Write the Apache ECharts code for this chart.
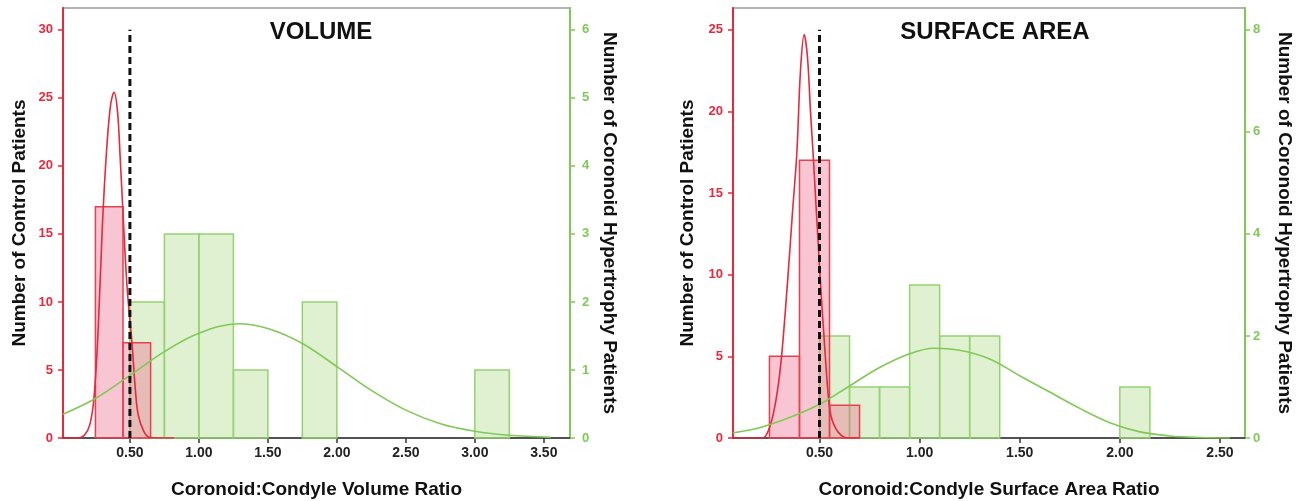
<!DOCTYPE html>
<html>
<head>
<meta charset="utf-8">
<script src="https://cdn.jsdelivr.net/npm/echarts@6/dist/echarts.min.js"></script>
<style>
  html, body { margin: 0; padding: 0; background: #fff; }
  #chart { width: 1302px; height: 501px; }
</style>
</head>
<body>
<div id="chart"></div>
<script>
// histogram bins: [start, end, count]
const volRedBins = [[0.25, 0.45, 17], [0.45, 0.65, 7]];
const volGreenBins = [[0.50, 0.75, 2], [0.75, 1.00, 3], [1.00, 1.25, 3], [1.25, 1.50, 1], [1.75, 2.00, 2], [3.00, 3.25, 1]];
const surfRedBins = [[0.25, 0.40, 5], [0.40, 0.55, 17], [0.55, 0.70, 2]];
const surfGreenBins = [[0.50, 0.65, 2], [0.65, 0.80, 1], [0.80, 0.95, 1], [0.95, 1.10, 3], [1.10, 1.25, 2], [1.25, 1.40, 2], [2.00, 2.15, 1]];

// fitted curves: [x, y]
const volRedCurve = [[0.015, 0], [0.12, 0], [0.17, 0.2], [0.21, 1.0], [0.24, 3.0], [0.27, 8.0], [0.30, 15.5], [0.33, 21.0], [0.36, 24.5], [0.385, 25.4], [0.41, 24.0], [0.43, 20.5], [0.45, 16.5], [0.48, 11.0], [0.515, 7.0], [0.54, 3.5], [0.56, 1.7], [0.60, 0.5], [0.64, 0.05], [0.70, 0], [0.82, 0]];
const volGreenCurve = [[0.015, 0.35], [0.25, 0.58], [0.50, 0.92], [0.75, 1.27], [1.00, 1.54], [1.29, 1.68], [1.50, 1.61], [1.75, 1.39], [2.00, 1.05], [2.25, 0.70], [2.50, 0.41], [2.75, 0.21], [3.00, 0.10], [3.25, 0.04], [3.55, 0.01]];
const surfRedCurve = [[0.068, 0], [0.20, 0], [0.23, 0.1], [0.262, 1.1], [0.29, 2.9], [0.312, 5.2], [0.34, 9.5], [0.365, 13.8], [0.387, 17.5], [0.405, 22.5], [0.4235, 24.7], [0.44, 23.3], [0.455, 20.0], [0.47, 17.0], [0.50, 10.5], [0.528, 5.2], [0.553, 1.6], [0.58, 0.6], [0.61, 0.15], [0.64, 0], [0.70, 0]];
const surfGreenCurve = [[0.068, 0.10], [0.20, 0.20], [0.35, 0.40], [0.50, 0.66], [0.65, 1.02], [0.80, 1.38], [0.95, 1.65], [1.07, 1.76], [1.20, 1.72], [1.35, 1.55], [1.50, 1.22], [1.65, 0.90], [1.80, 0.58], [1.95, 0.30], [2.10, 0.12], [2.25, 0.04], [2.40, 0.01], [2.55, 0]];

// tick labels
const volXTicks = [0.5, 1, 1.5, 2, 2.5, 3, 3.5];
const volRedTicks = [0, 5, 10, 15, 20, 25, 30];
const volGreenTicks = [0, 1, 2, 3, 4, 5, 6];
const surfXTicks = [0.5, 1, 1.5, 2, 2.5];
const surfRedTicks = [0, 5, 10, 15, 20, 25];
const surfGreenTicks = [0, 2, 4, 6, 8];

const cutoff = 0.5;
const volCutoffTop = 30;
const surfCutoffTop = 25;

const RED = '#e8283c';
const GREEN = '#80c956';
const FONT = 'Liberation Sans, Arial, sans-serif';

const chart = echarts.init(document.getElementById('chart'));

function barSeries(bins, xi, yi, fill, stroke, blend) {
    return {
        type: 'custom',
        xAxisIndex: xi,
        yAxisIndex: yi,
        data: bins,
        encode: { x: [0, 1], y: 2 },
        renderItem: function (params, api) {
            const a = api.coord([api.value(0), 0]);
            const b = api.coord([api.value(1), api.value(2)]);
            return {
                type: 'rect',
                shape: { x: a[0], y: b[1], width: b[0] - a[0], height: a[1] - b[1] },
                style: { fill: fill, stroke: stroke, lineWidth: 1.5, blend: blend }
            };
        }
    };
}

function curveSeries(points, xi, yi, color) {
    return {
        type: 'line',
        xAxisIndex: xi,
        yAxisIndex: yi,
        data: points,
        smooth: 0.35,
        showSymbol: false,
        silent: true,
        lineStyle: { color: color, width: 1.6 }
    };
}

function cutoffSeries(xi, yi, top) {
    return {
        type: 'line',
        xAxisIndex: xi,
        yAxisIndex: yi,
        data: [[cutoff, 0], [cutoff, top]],
        showSymbol: false,
        silent: true,
        z: 10,
        lineStyle: { color: '#111', width: 3, type: [7, 4] }
    };
}

function xAxis(gi, min, max, ticks, name) {
    return {
        type: 'value', gridIndex: gi, min: min, max: max,
        name: name, nameLocation: 'middle', nameGap: 42,
        nameTextStyle: { fontSize: 19, fontWeight: 'bold', color: '#111', fontFamily: FONT },
        axisLine: { lineStyle: { color: '#333', width: 1.5 } },
        axisTick: { customValues: ticks, length: 5, lineStyle: { color: '#333', width: 1.5 } },
        axisLabel: {
            customValues: ticks, margin: 8, fontSize: 14, fontWeight: 'bold', color: '#222', fontFamily: FONT,
            formatter: v => v.toFixed(2)
        },
        splitLine: { show: false }
    };
}

function yAxis(gi, pos, max, ticks, color, name, gap, rotate, margin) {
    return {
        type: 'value', gridIndex: gi, position: pos, min: 0, max: max,
        name: name, nameLocation: 'middle', nameGap: gap, nameRotate: rotate,
        nameTextStyle: { fontSize: 19, fontWeight: 'bold', color: '#111', fontFamily: FONT },
        axisLine: { show: true, lineStyle: { color: color, width: 2 } },
        axisTick: { show: true, customValues: ticks, length: 5, lineStyle: { color: color, width: 1.5 } },
        axisLabel: { customValues: ticks, margin: margin, fontSize: 13, fontWeight: 'bold', color: color, fontFamily: FONT },
        splitLine: { show: false }
    };
}

const redFill = 'rgba(235,95,130,0.36)';
const greenFill = 'rgba(170,215,130,0.36)';

chart.setOption({
    animation: false,
    textStyle: { fontFamily: FONT },
    title: [
        { text: 'VOLUME', left: 316, top: 15, textAlign: 'center', textStyle: { fontSize: 24, fontWeight: 'bold', color: '#111', fontFamily: FONT } },
        { text: 'SURFACE AREA', left: 990, top: 15, textAlign: 'center', textStyle: { fontSize: 24, fontWeight: 'bold', color: '#111', fontFamily: FONT } }
    ],
    grid: [
        { left: 63, top: 8, width: 507, height: 430, outerBoundsMode: 'none', containLabel: false, show: true, borderColor: '#9a9a9a', borderWidth: 1.5, backgroundColor: 'transparent' },
        { left: 733, top: 8, width: 512, height: 430, outerBoundsMode: 'none', containLabel: false, show: true, borderColor: '#9a9a9a', borderWidth: 1.5, backgroundColor: 'transparent' }
    ],
    xAxis: [
        xAxis(0, 0.015, 3.69, volXTicks, 'Coronoid:Condyle Volume Ratio'),
        xAxis(1, 0.068, 2.625, surfXTicks, 'Coronoid:Condyle Surface Area Ratio')
    ],
    yAxis: [
        yAxis(0, 'left', 31.6, volRedTicks, RED, 'Number of Control Patients', 34, 90, 10),
        yAxis(0, 'right', 6.32, volGreenTicks, GREEN, 'Number of Coronoid Hypertrophy Patients', 30, -90, 12),
        yAxis(1, 'left', 26.33, surfRedTicks, RED, 'Number of Control Patients', 36, 90, 10),
        yAxis(1, 'right', 8.426, surfGreenTicks, GREEN, 'Number of Coronoid Hypertrophy Patients', 30, -90, 8)
    ],
    series: [
        barSeries(volGreenBins, 0, 1, greenFill, '#95d270'),
        barSeries(volRedBins, 0, 0, redFill, '#e8404f', 'multiply'),
        curveSeries(volRedCurve, 0, 0, RED),
        curveSeries(volGreenCurve, 0, 1, GREEN),
        cutoffSeries(0, 0, volCutoffTop),

        barSeries(surfGreenBins, 1, 3, greenFill, '#95d270'),
        barSeries(surfRedBins, 1, 2, redFill, '#e8404f', 'multiply'),
        curveSeries(surfRedCurve, 1, 2, RED),
        curveSeries(surfGreenCurve, 1, 3, GREEN),
        cutoffSeries(1, 2, surfCutoffTop)
    ]
});
</script>
</body>
</html>
